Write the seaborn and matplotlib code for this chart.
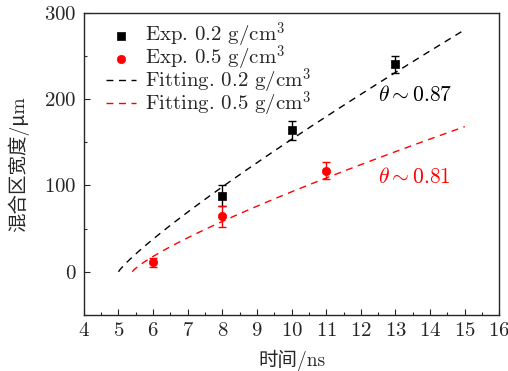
import numpy as np
import pandas as pd
import matplotlib
matplotlib.use('Agg')
import matplotlib.pyplot as plt
import seaborn as sns

# measured points (time in ns, width in um, error bar half-length)
t_02 = [8, 10, 13]
w_02 = [88, 164, 240]
e_02 = [12, 11, 10]

t_05 = [6, 8, 11]
w_05 = [11, 64, 117]
e_05 = [5, 12, 10]

# fitting parameters: w = a * (t - t0) ** theta
fit_02 = {'a': 37.8, 't0': 5.0, 'theta': 0.87, 't_end': 15.0}
fit_05 = {'a': 26.9, 't0': 5.4, 'theta': 0.81, 't_end': 15.0}

xticks = list(range(4, 17))
yticks = [0, 100, 200, 300]

sns.set_style('ticks')
plt.rcParams['font.family'] = ['cmr10', 'Noto Sans CJK SC', 'DejaVu Serif']
plt.rcParams['mathtext.fontset'] = 'cm'
plt.rcParams['axes.formatter.use_mathtext'] = True
plt.rcParams['axes.unicode_minus'] = False

fig = plt.figure(figsize=(5.08, 3.71), dpi=100)
ax = fig.add_axes([0.165, 0.151, 0.818, 0.815])


def fit_curve(p):
    t = np.linspace(p['t0'], p['t_end'], 200)
    return pd.DataFrame({'t': t, 'w': p['a'] * (t - p['t0']) ** p['theta']})


dash = (0, (5, 4))
c02 = fit_curve(fit_02)
c05 = fit_curve(fit_05)
sns.lineplot(data=c02, x='t', y='w', ax=ax, color='black', lw=1.0, linestyle=dash,
             label='Fitting. 0.2 g/cm$^3$', sort=False)
sns.lineplot(data=c05, x='t', y='w', ax=ax, color='red', lw=1.0, linestyle=dash,
             label='Fitting. 0.5 g/cm$^3$', sort=False)

ax.errorbar(t_02, w_02, yerr=e_02, fmt='none', ecolor='black', elinewidth=1.0, capsize=3, capthick=1.0)
ax.errorbar(t_05, w_05, yerr=e_05, fmt='none', ecolor='red', elinewidth=1.0, capsize=3, capthick=1.0)
sns.scatterplot(x=t_02, y=w_02, ax=ax, marker='s', color='black', s=32, edgecolor='black',
                linewidth=0.5, label='Exp. 0.2 g/cm$^3$', zorder=5)
sns.scatterplot(x=t_05, y=w_05, ax=ax, marker='o', color='red', s=36, edgecolor='red',
                linewidth=0.5, label='Exp. 0.5 g/cm$^3$', zorder=5)

handles, labels = ax.get_legend_handles_labels()
order = [labels.index(l) for l in ['Exp. 0.2 g/cm$^3$', 'Exp. 0.5 g/cm$^3$',
                                   'Fitting. 0.2 g/cm$^3$', 'Fitting. 0.5 g/cm$^3$']]
ax.legend([handles[i] for i in order], [labels[i] for i in order], loc='upper left',
          frameon=False, fontsize=15, handlelength=1.45, handletextpad=0.42,
          labelspacing=-0.3, borderaxespad=0.0, bbox_to_anchor=(0.033, 1.0))

ax.text(12.5, 205, r'$\theta\sim0.87$', fontsize=15.5, color='black', va='center')
ax.text(12.5, 110, r'$\theta\sim0.81$', fontsize=15.5, color='red', va='center')

ax.set_xlim(4, 16)
ax.set_ylim(-50, 300)
ax.set_xticks(xticks)
ax.set_yticks(yticks)
ax.set_xticks(np.arange(4.5, 16, 1), minor=True)
ax.set_yticks([-50, 50, 150, 250], minor=True)
ax.tick_params(which='both', direction='in', labelsize=15, top=False, right=False)
ax.tick_params(which='major', length=4, width=0.8, pad=5)
ax.tick_params(which='minor', length=2, width=0.8)
for s in ax.spines.values():
    s.set_linewidth(1.0)
    s.set_visible(True)

ax.set_xlabel('时间/ns', fontsize=14, labelpad=7)
ax.set_ylabel('混合区宽度/μm', fontsize=14, labelpad=11)

fig.savefig('out.png', dpi=100)
